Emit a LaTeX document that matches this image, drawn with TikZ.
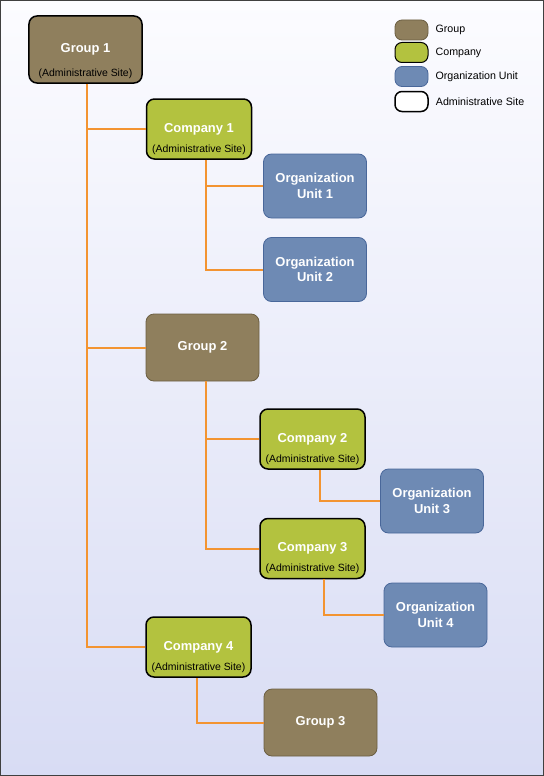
\documentclass[tikz,border=0pt]{standalone}
\usepackage{fontspec}
\setmainfont{Liberation Sans}
\usetikzlibrary{positioning}

\definecolor{groupfill}{HTML}{8F7F5D}
\definecolor{groupline}{HTML}{6B5E42}
\definecolor{compfill}{HTML}{B3C23F}
\definecolor{unitfill}{HTML}{6E8AB4}
\definecolor{unitline}{HTML}{49679A}
\definecolor{wirecol}{HTML}{F39431}
\definecolor{bgtop}{HTML}{FCFCFF}
\definecolor{bgbottom}{HTML}{D8DCF4}

\begin{document}
\begin{tikzpicture}
                [
                    x=1bp,y=-1bp,
                    box/.style={rectangle,rounded corners=8bp,align=center,inner sep=0,text=white,font=\fontsize{13}{15.5}\selectfont\bfseries},
                    group/.style={box,fill=groupfill,draw=groupline,line width=0.8bp,minimum width=113bp,minimum height=67bp},
                    company/.style={box,fill=compfill,minimum width=105bp,minimum height=60bp},
                    unit/.style={box,fill=unitfill,draw=unitline,line width=0.8bp,minimum width=103bp,minimum height=64bp},
                    site/.style={draw=black,line width=1.5bp,label={[sitetext]south:(Administrative Site)}},
                    sitetext/.style={anchor=base,yshift=7.5bp,inner sep=0,text=black,font=\fontsize{10.5}{12}\selectfont},
                    legend/.style={rectangle,rounded corners=7bp,inner sep=0,minimum width=33bp,minimum height=20bp},
                    legtext/.style={anchor=west,inner sep=0,xshift=7bp,text=black,font=\fontsize{10.7}{12}\selectfont},
                    wire/.style={draw=wirecol,line width=2bp},
                ]
                \useasboundingbox (0,0) rectangle (544,776);
                \fill[top color=bgtop,bottom color=bgbottom] (0,0) rectangle (544,776);
                \draw[black!75,line width=1.5bp] (0.75,0.75) rectangle (543.25,775.25);

                % legend
                \node[legend,fill=groupfill,draw=groupline,line width=0.8bp,label={[legtext]east:Group}] (lgroup) at (411.5,30) {};
                \node[legend,fill=compfill,draw=black,line width=1bp,label={[legtext]east:Company}] (lcomp) at (411.5,52.5) {};
                \node[legend,fill=unitfill,draw=unitline,line width=0.8bp,label={[legtext]east:Organization Unit}] (lunit) at (411.5,76.5) {};
                \node[legend,fill=white,draw=black,line width=1.5bp,label={[legtext]east:Administrative Site}] (lsite) at (411.5,101.5) {};

                % hierarchy
                \node[group,site] (g1) at (85.5,49.5) {Group 1};
                \node[company,site] (c1) at (199,129) {Company 1};
                \node[unit] (ou1) at (315,186) {Organization\\Unit 1};
                \node[unit] (ou2) at (315,269.5) {Organization\\Unit 2};
                \node[group] (g2) at (202.5,347.5) {Group 2};
                \node[company,site] (c2) at (312.5,439) {Company 2};
                \node[unit] (ou3) at (432,501) {Organization\\Unit 3};
                \node[company,site] (c3) at (312.5,548.5) {Company 3};
                \node[unit] (ou4) at (435.5,615) {Organization\\Unit 4};
                \node[company,site] (c4) at (198.5,647) {Company 4};
                \node[group] (g3) at (320.5,722.5) {Group 3};

                % connectors
                \draw[wire] ([xshift=1.5bp]g1.south) |- (c1.west);
                \draw[wire] ([xshift=1.5bp]g1.south) |- (g2.west);
                \draw[wire] ([xshift=1.5bp]g1.south) |- (c4.west);
                \draw[wire] ([xshift=7bp]c1.south) |- (ou1.west);
                \draw[wire] ([xshift=7bp]c1.south) |- (ou2.west);
                \draw[wire] ([xshift=3.5bp]g2.south) |- (c2.west);
                \draw[wire] ([xshift=3.5bp]g2.south) |- (c3.west);
                \draw[wire] ([xshift=7.5bp]c2.south) |- (ou3.west);
                \draw[wire] ([xshift=11.5bp]c3.south) |- (ou4.west);
                \draw[wire] ([xshift=-1.5bp]c4.south) |- (g3.west);
            \end{tikzpicture}
\end{document}
